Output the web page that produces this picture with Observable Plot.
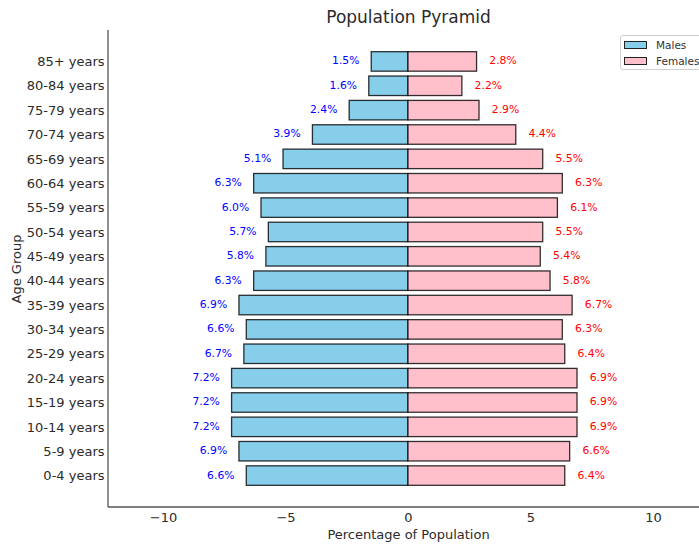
<!DOCTYPE html>
<html>
<head>
<meta charset="utf-8">
<script src="https://cdn.jsdelivr.net/npm/d3@7"></script>
<script src="https://cdn.jsdelivr.net/npm/@observablehq/plot@0.6"></script>
<style>
  html, body { margin: 0; padding: 0; background: #fff; }
  #wrap { position: relative; width: 699px; height: 545px; overflow: hidden; font-family: "DejaVu Sans", sans-serif; }
  #legend { position: absolute; left: 620px; top: 35px; width: 100px; height: 35px; border: 1px solid #d0d0d0; border-radius: 3px; background: rgba(255,255,255,0.8); box-sizing: border-box; font-size: 10.5px; color: #333; }
  .item { position: absolute; left: 3px; display: flex; align-items: center; }
  .sw { width: 21px; height: 6px; border: 1px solid #222; margin-right: 9px; }
</style>
</head>
<body>
<div id="wrap"></div>
<script>
const ageGroups = ["0-4 years","5-9 years","10-14 years","15-19 years","20-24 years","25-29 years","30-34 years","35-39 years","40-44 years","45-49 years","50-54 years","55-59 years","60-64 years","65-69 years","70-74 years","75-79 years","80-84 years","85+ years"];
const males   = [6.6, 6.9, 7.2, 7.2, 7.2, 6.7, 6.6, 6.9, 6.3, 5.8, 5.7, 6.0, 6.3, 5.1, 3.9, 2.4, 1.6, 1.5];
const females = [6.4, 6.6, 6.9, 6.9, 6.9, 6.4, 6.3, 6.7, 5.8, 5.4, 5.5, 6.1, 6.3, 5.5, 4.4, 2.9, 2.2, 2.8];
const xTicks = [-10, -5, 0, 5, 10];
const xDomain = [-12.245, 11.88];
const seriesNames = ["Males", "Females"];
const seriesColors = ["#87CEEB", "#FFC0CB"];

const rows = ageGroups.map((a, i) => ({age: a, m: males[i], f: females[i]}));
const txt = "#2b2b2b";

const chart = Plot.plot({
  width: 699,
  height: 545,
  marginLeft: 108,
  marginRight: 0,
  marginTop: 30,
  marginBottom: 38,
  style: {fontFamily: "DejaVu Sans, sans-serif", background: "white", color: txt},
  x: {domain: xDomain},
  y: {domain: ageGroups.slice().reverse(), paddingInner: 0.2, paddingOuter: 0.89, align: 0.5, round: false},
  marks: [
    Plot.barX(rows, {y: "age", x1: 0, x2: d => -d.m, fill: seriesColors[0], stroke: "#000", strokeOpacity: 0.8, strokeWidth: 1.3}),
    Plot.barX(rows, {y: "age", x1: 0, x2: "f", fill: seriesColors[1], stroke: "#000", strokeOpacity: 0.8, strokeWidth: 1.3}),
    Plot.text(rows, {y: "age", x: d => -(d.m + 0.5), text: d => d.m.toFixed(1) + "%", textAnchor: "end", fill: "blue", fontSize: 10.8, dy: -1}),
    Plot.text(rows, {y: "age", x: d => d.f + 0.5, text: d => d.f.toFixed(1) + "%", textAnchor: "start", fill: "red", fontSize: 10.8, dy: -1}),
    Plot.axisX({ticks: xTicks, tickFormat: d3.format("d"), tickSize: 0, tickPadding: 5, fontSize: 13, label: null, color: txt}),
    Plot.axisY({tickSize: 0, tickPadding: 4, fontSize: 13, label: null, color: txt}),
    Plot.text(["Population Pyramid"], {frameAnchor: "top", lineAnchor: "middle", textAnchor: "middle", dx: 4.5, dy: -13, fontSize: 17, fill: txt}),
    Plot.text(["Percentage of Population"], {frameAnchor: "bottom", lineAnchor: "middle", textAnchor: "middle", dx: 4.5, dy: 27, fontSize: 13, fill: txt}),
    Plot.text(["Age Group"], {frameAnchor: "left", lineAnchor: "middle", textAnchor: "middle", dx: -92, rotate: -90, fontSize: 13, fill: txt})
  ]
});
const wrap = document.getElementById("wrap");
wrap.appendChild(chart);

// left and bottom spines, from the chart's own scales
const xr = chart.scale("x").range;
const yr = chart.scale("y").range;
const svg = d3.select(chart);
const spines = svg.append("g").attr("stroke", "#555").attr("stroke-width", 1.3).attr("fill", "none");
const yTop = Math.min(...yr), yBot = Math.max(...yr), xL = Math.min(...xr), xR = Math.max(...xr);
spines.append("line").attr("x1", xL).attr("x2", xL).attr("y1", yTop).attr("y2", yBot);
spines.append("line").attr("x1", xL).attr("x2", xR).attr("y1", yBot).attr("y2", yBot);

const legend = document.createElement("div");
legend.id = "legend";
seriesNames.forEach((n, i) => {
  const it = document.createElement("div");
  it.className = "item";
  it.style.top = (i === 0 ? 3 : 18.5) + "px";
  const sw = document.createElement("span");
  sw.className = "sw";
  sw.style.background = seriesColors[i];
  const t = document.createElement("span");
  t.textContent = n;
  it.appendChild(sw); it.appendChild(t);
  legend.appendChild(it);
});
wrap.appendChild(legend);
</script>
</body>
</html>
